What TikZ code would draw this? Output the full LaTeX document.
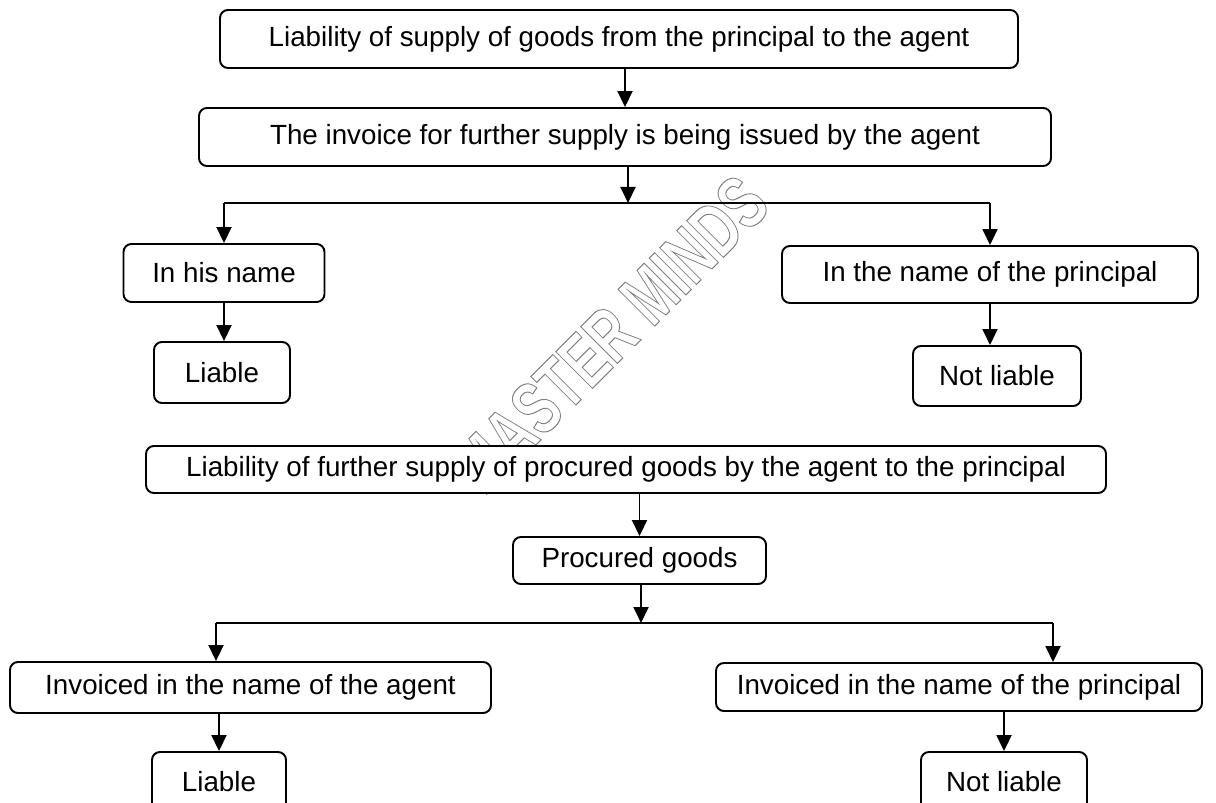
\documentclass[tikz,border=0pt]{standalone}
\usepackage{fontspec}
\setmainfont{Liberation Sans}
\usetikzlibrary{arrows.meta}
\newcommand{\hollowtext}[1]{\special{pdf:code q 1 Tr 0.6 w}#1\special{pdf:code Q}}
\begin{document}
\begin{tikzpicture}[>={Triangle[width=0.3cm,length=0.32cm]},x=0.02cm,y=-0.02cm,line width=1.1pt,
		box/.style 2 args={draw,fill=white,rounded corners=4.5pt,inner sep=0pt,minimum width={#1*0.02cm},minimum height={#2*0.02cm},font=\fontsize{15.8}{18}\selectfont}]
			\useasboundingbox (0,0) rectangle (1216,803);
			\node[rotate=45,gray,font=\bfseries\fontsize{43}{43}\selectfont] (wm) at (610,334) {\scalebox{0.7}[1]{\hollowtext{MASTER MINDS}}}; % watermark
			% first chart
			\node[box={798}{58}] (sup) at (619,39) {Liability of supply of goods from the principal to the agent};
			\node[box={852}{58}] (inv) at (625,137) {The invoice for further supply is being issued by the agent};
			\node[box={201}{58}] (his) at (224,273) {In his name};
			\node[box={136}{61}] (lia) at (222,372.5) {Liable};
			\node[box={416}{57}] (prn) at (990,274.5) {In the name of the principal};
			\node[box={168}{60}] (nlia) at (997,376) {Not liable};
			\coordinate (j1) at (628,203);
			\draw[->] (sup.south -| inv.north) -- (inv.north);
			\draw[->] (inv.south -| j1) -- (j1);
			\draw (his.north |- j1) -- (prn.north |- j1);
			\draw[->] (his.north |- j1) -- (his.north);
			\draw[->] (prn.north |- j1) -- (prn.north);
			\draw[->] (his.south) -- (his.south |- lia.north);
			\draw[->] (prn.south) -- (prn.south |- nlia.north);
			% second chart
			\node[box={960}{47}] (fur) at (626,469.5) {Liability of further supply of procured goods by the agent to the principal};
			\node[box={253}{47}] (proc) at (639.5,560.5) {Procured goods};
			\node[box={481}{51}] (iag) at (250.5,687.5) {Invoiced in the name of the agent};
			\node[box={486}{48}] (ipr) at (959,687) {Invoiced in the name of the principal};
			\node[box={134}{60}] (liab) at (219,782) {Liable};
			\node[box={166}{60}] (nliab) at (1004,782) {Not liable};
			\coordinate (j2) at (641,623);
			\coordinate (jl) at (216,623);
			\coordinate (jr) at (1053,623);
			\draw[->] (fur.south -| proc.north) -- (proc.north);
			\draw[->] (proc.south -| j2) -- (j2);
			\draw (jl) -- (jr);
			\draw[->] (jl) -- (jl |- iag.north);
			\draw[->] (jr) -- (jr |- ipr.north);
			\draw[->] (iag.south -| liab.north) -- (liab.north);
			\draw[->] (ipr.south -| nliab.north) -- (nliab.north);
		\end{tikzpicture}
\end{document}
